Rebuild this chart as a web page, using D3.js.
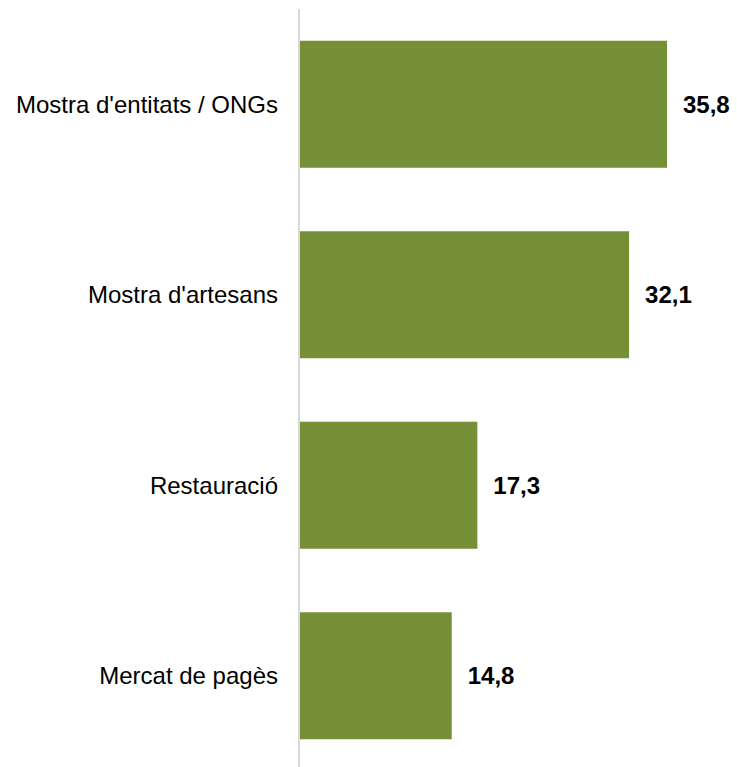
<!DOCTYPE html>
<html>
<head>
<meta charset="utf-8">
<script src="https://cdn.jsdelivr.net/npm/d3@7"></script>
<style>
html,body{margin:0;padding:0;background:#fff;}
svg{display:block;}
</style>
</head>
<body>
<svg id="chart" width="737" height="767"></svg>
<script>
const categories = ["Mostra d'entitats / ONGs", "Mostra d'artesans", "Restauració", "Mercat de pagès"];
const values = [35.8, 32.1, 17.3, 14.8];
const valueLabels = ["35,8", "32,1", "17,3", "14,8"];

const svg = d3.select("#chart");
const x0 = 300;
const x = d3.scaleLinear().domain([0, 35.8]).range([x0, 667]);
const y = d3.scaleBand().domain(categories).range([9, 771]).paddingInner(1/3).paddingOuter(1/6);

svg.selectAll("rect.bar").data(categories).enter().append("rect")
  .attr("class","bar")
  .attr("x", x(0))
  .attr("y", d => y(d))
  .attr("width", (d,i) => x(values[i]) - x(0))
  .attr("height", y.bandwidth())
  .attr("fill", "#758f36");

svg.append("line")
  .attr("x1", 299).attr("x2", 299)
  .attr("y1", 9).attr("y2", 767)
  .attr("stroke", "#d9d9d9").attr("stroke-width", 2);

svg.selectAll("text.cat").data(categories).enter().append("text")
  .attr("class","cat")
  .attr("x", 278)
  .attr("y", d => y(d) + y.bandwidth()/2)
  .attr("dy", "0.35em")
  .attr("text-anchor", "end")
  .attr("font-family", "Liberation Sans, Arial, sans-serif")
  .attr("font-size", 24)
  .attr("fill", "#000")
  .text(d => d);

svg.selectAll("text.val").data(categories).enter().append("text")
  .attr("class","val")
  .attr("x", (d,i) => x(values[i]) + 16)
  .attr("y", d => y(d) + y.bandwidth()/2)
  .attr("dy", "0.35em")
  .attr("font-family", "Liberation Sans, Arial, sans-serif")
  .attr("font-size", 24)
  .attr("font-weight", "bold")
  .attr("fill", "#000")
  .text((d,i) => valueLabels[i]);
</script>
</body>
</html>
